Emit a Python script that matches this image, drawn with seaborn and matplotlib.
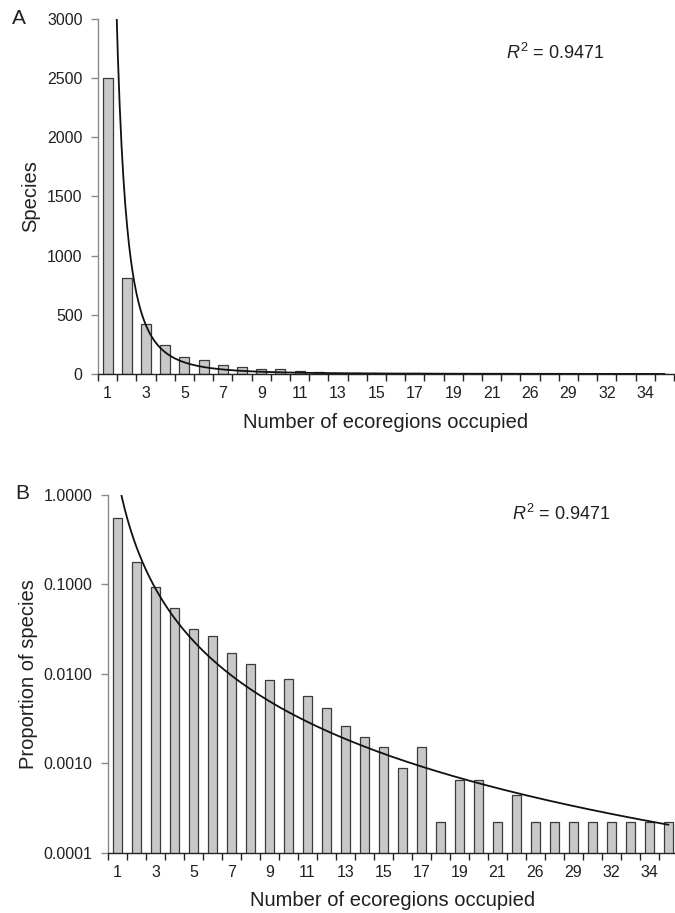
import numpy as np
import pandas as pd
import matplotlib
matplotlib.use("Agg")
import matplotlib.pyplot as plt
from matplotlib.ticker import FixedLocator, NullFormatter, FixedFormatter
import seaborn as sns

# Number of ecoregions a species occupies (only occupancy classes that occur)
ecoregions = [1, 2, 3, 4, 5, 6, 7, 8, 9, 10, 11, 12, 13, 14, 15, 16, 17, 18, 19, 20,
              21, 23, 26, 27, 29, 31, 32, 33, 34, 35]
# Number of species in each occupancy class
species = [2500, 815, 423, 248, 146, 120, 78, 59, 39, 40, 26, 19, 12, 9, 7, 4, 7, 1, 3, 3,
           1, 2, 1, 1, 1, 1, 1, 1, 1, 1]
# Power-law trendlines y = c * rank^k (rank = category order 1..n)
fit_counts = (8900.0, -2.8)
fit_prop = (1.63, -2.64)
r_squared = "0.9471"
y_ticks_a = [0, 500, 1000, 1500, 2000, 2500, 3000]
y_ticks_b = [0.0001, 0.001, 0.01, 0.1, 1.0]

sns.set_style("ticks")
plt.rcParams["font.family"] = ["Liberation Sans", "DejaVu Sans"]
plt.rcParams["mathtext.fontset"] = "custom"
plt.rcParams["mathtext.rm"] = "Liberation Sans"
plt.rcParams["mathtext.it"] = "Liberation Sans:italic"

TXT = "#231f20"
BAR = "#c8c8c8"
EDGE = "#3a3a3a"

df = pd.DataFrame({
    "eco": [str(v) for v in ecoregions],
    "species": species,
})
df["prop"] = df["species"] / df["species"].sum()
order = list(df["eco"])
n = len(order)
rank = np.linspace(1, n, 600)

fig = plt.figure(figsize=(6.75, 9.13), dpi=100)
ax_a = fig.add_axes([98 / 675, 539 / 913, 576 / 675, 355 / 913])
ax_b = fig.add_axes([108 / 675, 60.3 / 913, 570 / 675, 357.7 / 913])


def style_axis(ax, yticks):
    for side in ("top", "right"):
        ax.spines[side].set_visible(False)
    ax.spines["left"].set_color("#8a8a8a")
    ax.spines["bottom"].set_color("#222222")
    ax.spines["left"].set_linewidth(1.0)
    ax.spines["bottom"].set_linewidth(1.0)
    ax.set_xlim(-0.5, n - 0.5)
    # tick marks between categories, labels on every other category
    ax.xaxis.set_major_locator(FixedLocator(np.arange(-0.5, n, 1.0)))
    ax.xaxis.set_major_formatter(NullFormatter())
    label_pos = list(range(0, n, 2))
    ax.xaxis.set_minor_locator(FixedLocator(label_pos))
    ax.xaxis.set_minor_formatter(FixedFormatter([order[i] for i in label_pos]))
    ax.tick_params(axis="x", which="major", direction="out", length=5, width=1,
                   color="#222222")
    ax.tick_params(axis="x", which="minor", length=0, pad=9, labelsize=11.5,
                   labelcolor=TXT)
    ax.set_yticks(yticks)
    ax.tick_params(axis="y", which="major", direction="out", length=5, width=1,
                   color="#8a8a8a", labelsize=11.5, labelcolor=TXT, pad=6)
    ax.tick_params(axis="y", which="minor", length=0)


# Panel A: species counts
sns.barplot(data=df, x="eco", y="species", order=order, ax=ax_a, color=BAR,
            saturation=1, width=0.52, edgecolor=EDGE, linewidth=0.9)
sns.lineplot(x=rank - 1, y=fit_counts[0] * rank ** fit_counts[1], ax=ax_a,
             color="#111111", linewidth=1.3)
ax_a.set_ylim(0, 3000)
style_axis(ax_a, y_ticks_a)
ax_a.set_ylabel("Species", fontsize=14.5, color=TXT, labelpad=5)
ax_a.set_xlabel("Number of ecoregions occupied", fontsize=14.5, color=TXT, labelpad=8)
ax_a.text(0.709, 0.904, r"$R^2$ = " + r_squared, transform=ax_a.transAxes,
          fontsize=13, color=TXT, va="center", ha="left")

# Panel B: proportion of species on a log scale
sns.barplot(data=df, x="eco", y="prop", order=order, ax=ax_b, color=BAR,
            saturation=1, width=0.52, edgecolor=EDGE, linewidth=0.9)
sns.lineplot(x=rank - 1, y=fit_prop[0] * rank ** fit_prop[1], ax=ax_b,
             color="#111111", linewidth=1.3)
ax_b.set_yscale("log")
ax_b.set_ylim(1e-4, 1.0)
style_axis(ax_b, y_ticks_b)
ax_b.yaxis.set_major_formatter(FixedFormatter([f"{v:.4f}" for v in y_ticks_b]))
ax_b.yaxis.set_minor_formatter(NullFormatter())
ax_b.set_ylabel("Proportion of species", fontsize=14.5, color=TXT, labelpad=4)
ax_b.set_xlabel("Number of ecoregions occupied", fontsize=14.5, color=TXT, labelpad=8)
ax_b.text(0.708, 0.947, r"$R^2$ = " + r_squared, transform=ax_b.transAxes,
          fontsize=13, color=TXT, va="center", ha="left")

fig.text(12 / 675, 1 - 19 / 913, "A", fontsize=15, color=TXT, va="center", ha="left")
fig.text(15 / 675, 1 - 493 / 913, "B", fontsize=15, color=TXT, va="center", ha="left")

fig.savefig("out.png", dpi=100)
